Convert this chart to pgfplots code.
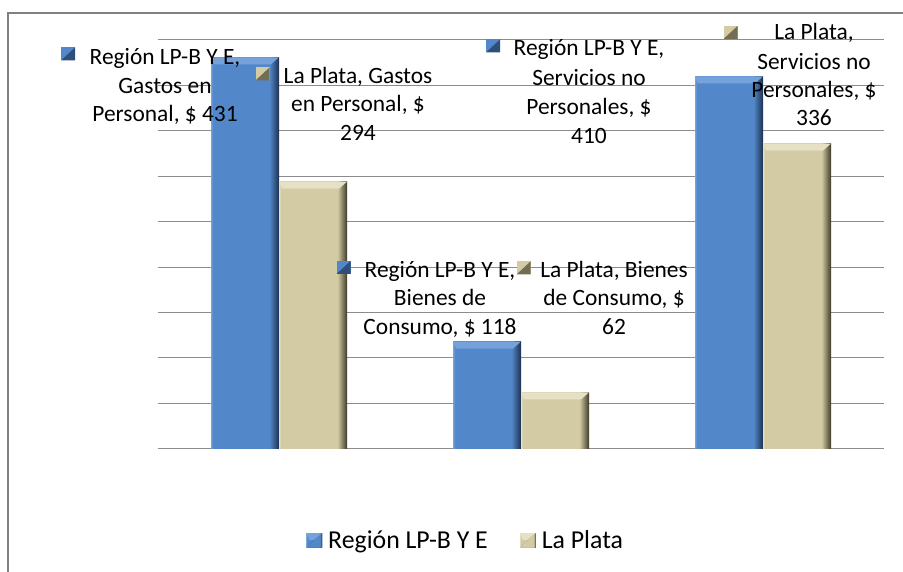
\documentclass[border=0pt]{standalone}
\usepackage{pgfplots}
\pgfplotsset{compat=1.18}
\usepackage{fontspec}
\setmainfont{Carlito}
\definecolor{bL}{RGB}{118,162,220}
\definecolor{bM}{RGB}{82,136,201}
\definecolor{bD}{RGB}{28,48,80}
\definecolor{tL}{RGB}{230,224,196}
\definecolor{tM}{RGB}{211,203,164}
\definecolor{tD}{RGB}{62,58,40}
\definecolor{gridgray}{RGB}{140,140,140}
\definecolor{framegray}{RGB}{128,128,128}
\pgfdeclarehorizontalshading{bluebar}{100bp}{color(0bp)=(bL); color(25bp)=(bL); color(26.5bp)=(bM); color(68bp)=(bM); color(75bp)=(bD); color(100bp)=(bD)}
\pgfdeclarehorizontalshading{tanbar}{100bp}{color(0bp)=(tL); color(25bp)=(tL); color(26.5bp)=(tM); color(68bp)=(tM); color(75bp)=(tD); color(100bp)=(tD)}
\newcommand{\bevelfill}[1]{%
  \pgfsetfillcolor{#1}%
  \pgfpathmoveto{\pgfpointanchor{path picture bounding box}{north west}}%
  \pgfpathlineto{\pgfpointanchor{path picture bounding box}{north east}}%
  \pgfpathlineto{\pgfpointadd{\pgfpointanchor{path picture bounding box}{north east}}{\pgfpoint{-8bp}{-7bp}}}%
  \pgfpathlineto{\pgfpointadd{\pgfpointanchor{path picture bounding box}{north west}}{\pgfpoint{3bp}{-7bp}}}%
  \pgfpathclose\pgfusepath{fill}}
\tikzset{bevelB/.style={path picture={\bevelfill{bL}}}, bevelT/.style={path picture={\bevelfill{tL}}}}
\newcommand{\lblfont}{\fontsize{23.4bp}{28bp}\selectfont}
\newcommand{\lab}[3]{\node[anchor=base, font=\lblfont, inner sep=0pt] at (#1bp,{(572-#2)*1bp}) {#3};}
% key square: colour, centre x, centre y (pixel rows from top), dark colour
\newcommand{\key}[4]{\fill[#1] ({(#2-7)*1bp},{(572-#3-6.5)*1bp}) rectangle ++(14bp,13bp);
  \fill[#4] ({(#2-7)*1bp},{(572-#3-6.5)*1bp}) -- ++(14bp,13bp) -- ++(0bp,-13bp) -- cycle;}
\begin{document}
\begin{tikzpicture}
\useasboundingbox (0,0) rectangle (903bp,572bp);
\draw[framegray, line width=2bp] (8.3bp,0bp) -- (8.3bp,558.5bp) -- (903bp,558.5bp);
\begin{axis}[
  at={(158bp,123.3bp)}, anchor=south west,
  scale only axis, width=726bp, height=408.7bp,
  xmin=-0.5, xmax=2.5, ymin=0, ymax=450,
  xtick=\empty, ytick={0,50,...,450}, yticklabels={},
  ymajorgrids, grid style={line width=1bp, color=gridgray},
  axis line style={draw=none}, major tick length=0pt,
  clip=false,
  legend columns=2,
  legend style={at={(0.2039,-0.2234)}, anchor=west, draw=none, fill=none,
    inner sep=0pt, font=\fontsize{25.8bp}{30bp}\selectfont,
    nodes={inner sep=0pt},
    /tikz/every odd column/.append style={column sep=6bp},
    /tikz/every even column/.append style={column sep=32bp}},
]
\addplot[ybar, bar width=68bp, bar shift=-34bp, draw=none, shade, shading=bluebar, bevelB,
  legend image code/.code={\fill[bM] (0bp,-7bp) rectangle (16bp,7bp); \fill[bD!65!bM] (0bp,-7bp) -- (16bp,7bp) -- (16bp,-7bp) -- cycle;}] coordinates {(0,431)};
\addlegendentry{Región LP-B Y E}
\addplot[ybar, bar width=68bp, bar shift=34bp, draw=none, shade, shading=tanbar, bevelT,
  legend image code/.code={\fill[tM] (0bp,-7bp) rectangle (16bp,7bp); \fill[tD!65!tM] (0bp,-7bp) -- (16bp,7bp) -- (16bp,-7bp) -- cycle;}] coordinates {(0,294)};
\addlegendentry{La Plata}
\addplot[ybar, bar width=68bp, bar shift=-34bp, draw=none, shade, shading=bluebar, bevelB, forget plot] coordinates {(1,118)};
\addplot[ybar, bar width=68bp, bar shift=34bp, draw=none, shade, shading=tanbar, bevelT, forget plot] coordinates {(1,62)};
\addplot[ybar, bar width=68bp, bar shift=-34bp, draw=none, shade, shading=bluebar, bevelB, forget plot] coordinates {(2,410)};
\addplot[ybar, bar width=68bp, bar shift=34bp, draw=none, shade, shading=tanbar, bevelT, forget plot] coordinates {(2,336)};
\end{axis}
% data labels
\key{bM}{68}{54}{bD!65!bM}
\lab{165}{64.5}{Región LP-B Y E,}
\lab{165}{93.5}{Gastos en}
\lab{165}{121.5}{Personal, \$ 431}
\key{tM}{262.5}{74}{tD!65!tM}
\lab{358}{83.5}{La Plata, Gastos}
\lab{358}{111.5}{en Personal, \$}
\lab{358}{140.5}{294}
\key{bM}{493}{46}{bD!65!bM}
\lab{589}{55.5}{Región LP-B Y E,}
\lab{589}{85.5}{Servicios no}
\lab{589}{114.5}{Personales, \$}
\lab{589}{143.5}{410}
\key{tM}{730.5}{32.5}{tD!65!tM}
\lab{814}{39.5}{La Plata,}
\lab{814}{69.5}{Servicios no}
\lab{814}{97.5}{Personales, \$}
\lab{814}{125.5}{336}
\key{bM}{343.5}{267.5}{bD!65!bM}
\lab{440}{277.5}{Región LP-B Y E,}
\lab{440}{305.5}{Bienes de}
\lab{440}{334.5}{Consumo, \$ 118}
\key{tM}{523.5}{268}{tD!65!tM}
\lab{614}{277.5}{La Plata, Bienes}
\lab{614}{305.5}{de Consumo, \$}
\lab{614}{334.5}{62}
\end{tikzpicture}
\end{document}
